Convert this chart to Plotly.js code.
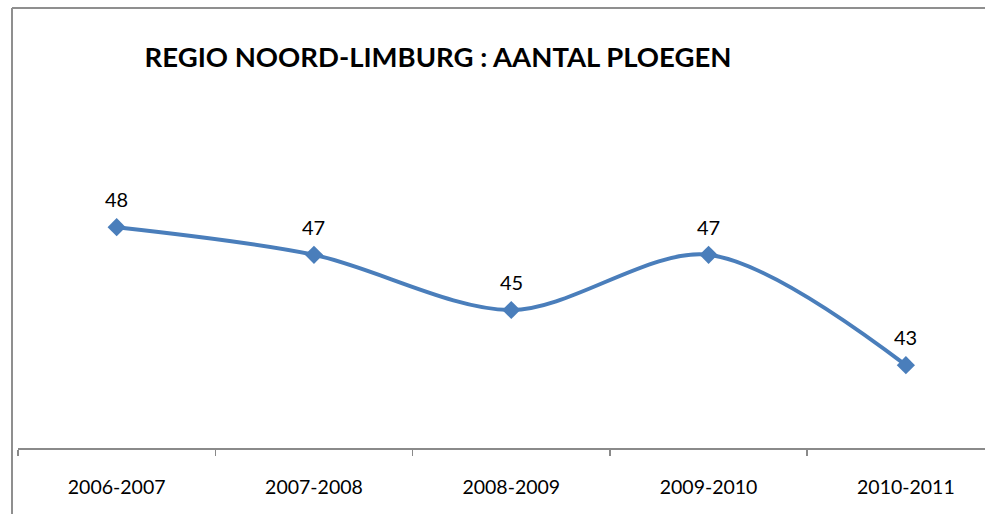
<!DOCTYPE html>
<html>
<head>
<meta charset="utf-8">
<script src="https://cdn.plot.ly/plotly-3.0.1.min.js"></script>
<style>
html,body{margin:0;padding:0;background:#fff;overflow:hidden;}
#chart{width:985px;height:514px;}
</style>
</head>
<body>
<div id="chart"></div>
<script>
var seasons = ["2006-2007", "2007-2008", "2008-2009", "2009-2010", "2010-2011"];
var ploegen = [48, 47, 45, 47, 43];
var titleText = "REGIO NOORD-LIMBURG : AANTAL PLOEGEN";

var fontFam = "Lato, 'Open Sans', sans-serif";
var lineColor = "#4a7ebb";
var frameColor = "#8f8f8f";

var trace = {
  x: seasons,
  y: ploegen,
  type: "scatter",
  mode: "lines+markers",
  line: {color: lineColor, width: 4, shape: "spline", smoothing: 0.9},
  marker: {symbol: "diamond", size: 14, color: lineColor},
  hoverinfo: "skip"
};

var annotations = seasons.map(function(s, i){
  return {
    x: s, y: ploegen[i], xref: "x", yref: "y",
    text: String(ploegen[i]), showarrow: false,
    yanchor: "bottom", yshift: 14,
    font: {family: fontFam, size: 20, color: "#000"}
  };
});

// plot area: x 18..985 (967px), y 172..448 (276px)
function px(v){ return (v - 18) / 967; }
function py(v){ return (448 - v) / 276; }

var shapes = [
  {type: "line", xref: "paper", yref: "paper", x0: px(12), x1: px(12), y0: py(8), y1: py(520),
   line: {color: frameColor, width: 2}},
  {type: "line", xref: "paper", yref: "paper", x0: px(12), x1: px(985), y0: py(8), y1: py(8),
   line: {color: frameColor, width: 2}}
];

var layout = {
  width: 985, height: 514,
  margin: {l: 18, r: 0, t: 172, b: 66},
  paper_bgcolor: "#fff", plot_bgcolor: "rgba(0,0,0,0)",
  showlegend: false,
  title: {
    text: "<b>" + titleText + "</b>",
    font: {family: fontFam, size: 27.5, color: "#000"},
    xref: "container", yref: "container",
    x: 438/985, xanchor: "center",
    y: 1 - 57/514, yanchor: "middle"
  },
  xaxis: {
    type: "category",
    range: [-0.5, 4.401],
    tickson: "boundaries",
    ticks: "outside", ticklen: 6, tickwidth: 1.5, tickcolor: "#8a8a8a",
    showline: true, linecolor: "#8a8a8a", linewidth: 1.5,
    showgrid: false, zeroline: false,
    tickfont: {family: fontFam, size: 19.5, color: "#000"},
    ticklabelstandoff: 21,
    fixedrange: true
  },
  yaxis: {
    range: [40, 50],
    visible: false,
    showgrid: false, zeroline: false,
    fixedrange: true
  },
  shapes: shapes,
  annotations: annotations
};

Plotly.newPlot("chart", [trace], layout, {staticPlot: true, displayModeBar: false});
</script>
</body>
</html>
